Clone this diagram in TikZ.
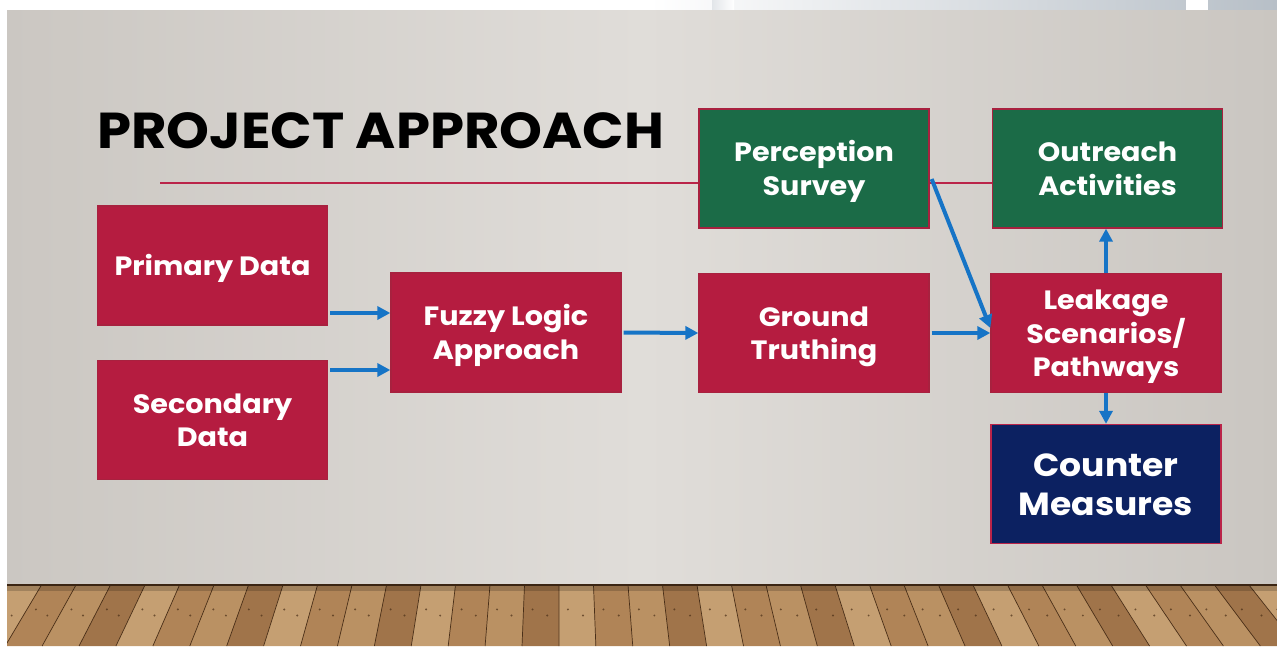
\documentclass[tikz,border=0pt]{standalone}
\usepackage{fontspec}
\setmainfont{Poppins}[FakeStretch=1.08]
\usetikzlibrary{arrows.meta,calc}

\definecolor{wallL}{HTML}{CBC7C2}
\definecolor{wallM}{HTML}{E0DDD9}
\definecolor{wallR}{HTML}{CAC6C1}
\definecolor{topgray}{HTML}{B7BFC7}
\definecolor{woodA}{HTML}{B08457}
\definecolor{woodB}{HTML}{C59F72}
\definecolor{woodC}{HTML}{A0744A}
\definecolor{woodD}{HTML}{BA9163}
\definecolor{woodline}{HTML}{4A2F18}
\definecolor{boxred}{HTML}{B51C40}
\definecolor{boxgreen}{HTML}{1B6B47}
\definecolor{boxnavy}{HTML}{0C2161}
\definecolor{boxedge}{HTML}{A8213F}
\definecolor{rulered}{HTML}{BA2449}
\definecolor{flowblue}{HTML}{1674C6}

% fixed height for the first line of a box label
\newcommand\firstline{\rule{0pt}{1.08em}}

\begin{document}
\begin{tikzpicture}[x=1pt,y=-1pt,
  box/.style={draw=boxedge, line width=1.3pt, minimum width=230pt,
    minimum height=119pt, inner sep=0pt, align=center, text=white,
    font=\bfseries\fontsize{26.5}{33.5}\selectfont,
    execute at end node={\rule[-0.31em]{0pt}{0.31em}}},
  redbox/.style={box, fill=boxred},
  greenbox/.style={box, fill=boxgreen},
  navybox/.style={box, fill=boxnavy, draw=rulered,
    font=\bfseries\fontsize{32}{39}\selectfont},
  flow/.style={draw=flowblue, line width=4pt,
    -{Triangle[length=13pt,width=13pt]}},
]
\useasboundingbox (0,0) rectangle (1277,646);

% page and wall
\fill[white] (0,0) rectangle (1277,646);
\shade[left color=white, right color=topgray] (650,0) rectangle (1277,10);
\shade[left color=topgray!40, right color=white] (712,0) rectangle (734,10);
\fill[white] (1186,0) rectangle (1208,10);
\shade[left color=wallL, right color=wallR, middle color=wallM] (7,10) rectangle (1277,585);

% wooden floor
\begin{scope}
  \clip (7,585) rectangle (1277,646);
  \fill[woodA] (7,585) rectangle (1277,646);
  \foreach \i in {-3,...,40} {
    \pgfmathsetmacro\xa{7+34.5*\i}
    \pgfmathsetmacro\xb{\xa+34.5}
    \pgfmathsetmacro\xab{\xa+(\xa-560)*0.07}
    \pgfmathsetmacro\xbb{\xb+(\xb-560)*0.07}
    \pgfmathtruncatemacro\k{mod(\i*3+21,4)}
    \ifcase\k \def\pc{woodA}\or\def\pc{woodB}\or\def\pc{woodC}\else\def\pc{woodD}\fi
    \fill[fill=\pc] (\xa,585) -- (\xb,585) -- (\xbb,646) -- (\xab,646) -- cycle;
    \draw[woodline, line width=0.7pt] (\xa,585) -- (\xab,646);
    \fill[woodline, opacity=0.7] ($(\xa,585)!0.4!(\xab,646)+(9,0)$) circle (1.1);
    \fill[woodline, opacity=0.7] ($(\xa,585)!0.5!(\xab,646)+(24,0)$) circle (1.1);
  }
  \fill[black, opacity=0.18] (7,585) rectangle (1277,591);
\end{scope}
\draw[woodline!80!black, line width=2pt] (7,585) -- (1277,585);

% title and rule
\node[anchor=base west, inner sep=0pt, font=\bfseries\fontsize{50.5}{50.5}\selectfont]
  (title) at (97,148) {PROJECT APPROACH};
\coordinate (ruleL) at (160,183);

% boxes
\node[redbox]   (pd) at (212.5,265.5) {\firstline Primary Data};
\node[redbox]   (sd) at (212.5,420)   {\firstline Secondary\\Data};
\node[redbox]   (fz) at (506,332.5)   {\firstline Fuzzy Logic\\Approach};
\node[redbox]   (gt) at (814,333)     {\firstline Ground\\Truthing};
\node[greenbox] (oa) at (1107.5,168.5) {\firstline Outreach\\Activities};
\node[redbox]   (lk) at (1106,333)    {\firstline Leakage\\Scenarios/\\Pathways};
\node[navybox]  (cm) at (1106,484)    {\firstline Counter\\Measures};

% rule runs behind the survey box
\draw[rulered, line width=2.3pt] (ruleL) -- (oa.west |- ruleL);
\node[greenbox] (ps) at (814,168.5)   {\firstline Perception\\Survey};

% arrow end points on the box sides
\coordinate (pdout) at ([xshift=2pt,yshift=-47.5pt]pd.east);
\coordinate (sdout) at ([xshift=2pt,yshift=50pt]sd.east);
\coordinate (psout) at ([xshift=2pt,yshift=-10.5pt]ps.east);
\coordinate (lkin)  at ([yshift=5pt]lk.west);

% flow arrows
\draw[flow] (pdout) -- (fz.west |- pdout);
\draw[flow] (sdout) -- (fz.west |- sdout);
\draw[flow] ([xshift=2pt]fz.east) -- (gt.west);
\draw[flow] ([xshift=2pt]gt.east) -- (lk.west);
\draw[flow] (psout) -- (lkin);
\draw[flow] (lk.north) -- (oa.south -| lk.north);
\draw[flow] (lk.south) -- (cm.north);
\end{tikzpicture}
\end{document}
